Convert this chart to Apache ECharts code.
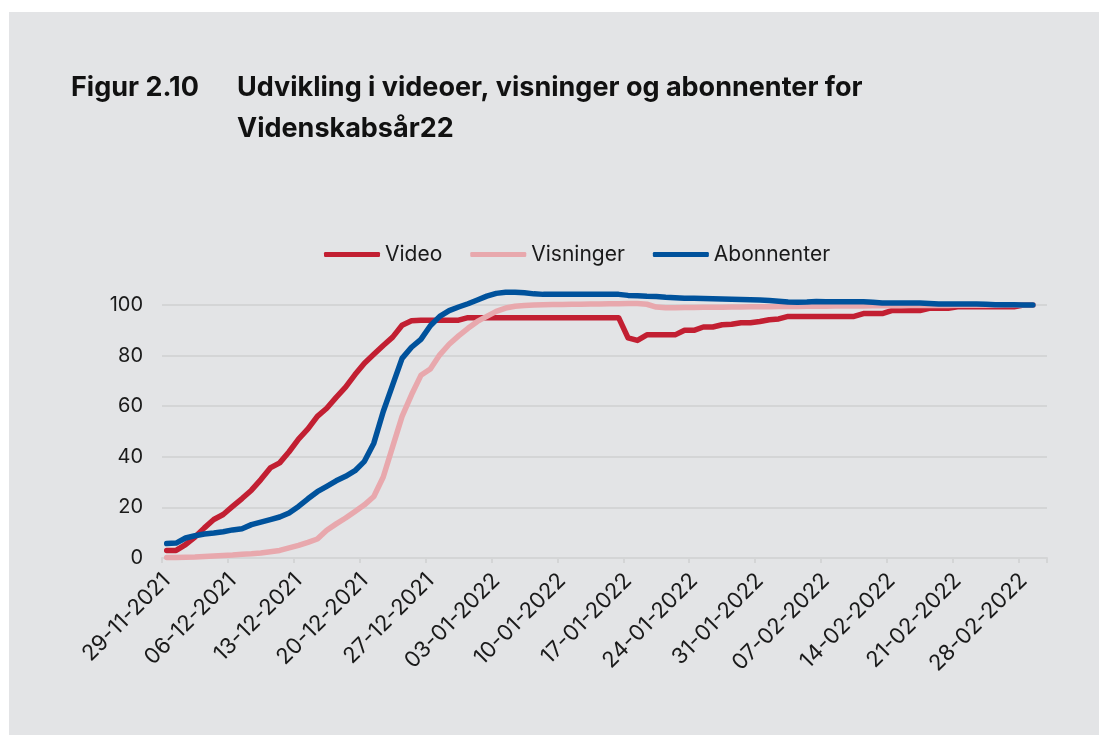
<!DOCTYPE html>
<html>
<head>
<meta charset="utf-8">
<title>Figur 2.10</title>
<script src="https://cdn.jsdelivr.net/npm/echarts@6/dist/echarts.min.js"></script>
<style>
  html, body { margin: 0; padding: 0; background: #ffffff; }
  #panel { position: absolute; left: 9px; top: 12px; right: 0; bottom: 0; background: #e3e4e6; }
  #chart { position: absolute; left: 0; top: 0; width: 1099px; height: 735px; }
</style>
</head>
<body>
<div id="panel"></div>
<div id="chart"></div>
<script>
// daily values, 29-11-2021 .. 01-03-2022 (index 100 = end level)
const startDate = '2021-11-29';
const dayCount = 94; // axis runs one slot past the last point

const video = [
  3, 3, 5.3, 8.3, 11.9, 15.2, 17.2, 20.4, 23.5, 26.8,
  31, 35.6, 37.6, 42, 47, 51, 56, 59.2, 63.5, 67.5,
  72.5, 77, 80.5, 84, 87.3, 92, 93.8, 94, 94, 94,
  94, 94, 95, 95, 95, 95, 95, 95, 95, 95,
  95, 95, 95, 95, 95, 95, 95, 95, 95, 87,
  86, 88.2, 88.2, 88.2, 88.2, 90, 90, 91.3, 91.3, 92.2,
  92.4, 93, 93, 93.5, 94.2, 94.5, 95.5, 95.5, 95.5, 95.5,
  95.5, 95.5, 95.5, 95.5, 96.6, 96.6, 96.6, 97.8, 97.8, 97.8,
  97.8, 98.7, 98.7, 98.7, 99.3, 99.3, 99.3, 99.3, 99.3, 99.3,
  99.3, 100, 100
];

const visninger = [
  0.2, 0.2, 0.3, 0.4, 0.6, 0.8, 1, 1.2, 1.5, 1.7,
  2, 2.5, 3, 4, 5, 6.2, 7.5, 11, 13.5, 15.8,
  18.4, 21, 24.3, 32, 44, 56, 64.5, 72.2, 74.7, 80.3,
  84.5, 87.8, 90.8, 93.5, 95.5, 97.5, 98.8, 99.5, 99.8, 100,
  100.1, 100.2, 100.2, 100.3, 100.3, 100.4, 100.4, 100.5, 100.5, 100.6,
  100.6, 100.3, 99.2, 98.9, 98.9, 99, 99, 99.1, 99.1, 99.1,
  99.2, 99.2, 99.3, 99.3, 99.3, 99.4, 99.4, 99.4, 99.5, 99.5,
  99.5, 99.6, 99.6, 99.6, 99.6, 99.7, 99.7, 99.7, 99.7, 99.8,
  99.8, 99.8, 99.8, 99.8, 99.9, 99.9, 99.9, 99.9, 99.9, 100,
  100, 100, 100
];

const abonnenter = [
  5.7, 5.9, 7.9, 8.8, 9.5, 9.9, 10.4, 11.1, 11.6, 13.2,
  14.2, 15.2, 16.2, 17.8, 20.4, 23.4, 26.2, 28.3, 30.5, 32.3,
  34.5, 38.2, 45.4, 57.9, 68.4, 78.9, 83.3, 86.4, 91.8, 95.5,
  97.8, 99.2, 100.5, 102, 103.5, 104.6, 105, 105, 104.8, 104.4,
  104.2, 104.2, 104.2, 104.2, 104.2, 104.2, 104.2, 104.2, 104.2, 103.8,
  103.7, 103.5, 103.4, 103.1, 102.9, 102.7, 102.7, 102.6, 102.5, 102.4,
  102.3, 102.2, 102.1, 102, 101.8, 101.5, 101.2, 101.1, 101.2, 101.4,
  101.3, 101.3, 101.3, 101.3, 101.3, 101.1, 100.8, 100.8, 100.8, 100.8,
  100.8, 100.6, 100.4, 100.4, 100.4, 100.4, 100.4, 100.3, 100.1, 100.1,
  100.1, 100, 100
];

const yTicks = [0, 20, 40, 60, 80, 100];

const colors = {
  video: '#c21f32',
  visninger: '#e8a8ad',
  abonnenter: '#00529c',
};

const font = 'Inter, "Noto Sans", sans-serif';

function pad(n) {
  return n < 10 ? '0' + n : '' + n;
}

// category labels dd-mm-yyyy, one per day
const days = [];
const d0 = new Date(startDate + 'T00:00:00Z');
for (let i = 0; i < dayCount; i++) {
  const d = new Date(d0.getTime() + i * 86400000);
  days.push(pad(d.getUTCDate()) + '-' + pad(d.getUTCMonth() + 1) + '-' + d.getUTCFullYear());
}

const chart = echarts.init(document.getElementById('chart'), null, { renderer: 'canvas' });

const lineSeries = (name, data, color) => ({
  name,
  type: 'line',
  data,
  symbol: 'none',
  clip: false,
  animation: false,
  lineStyle: { color, width: 5.5, cap: 'round', join: 'round' },
  itemStyle: { color },
});

const titleStyle = { fontFamily: font, fontWeight: 700, fontSize: 27, color: '#111111', lineHeight: 41 };

chart.setOption({
  backgroundColor: 'transparent',
  color: [colors.video, colors.visninger, colors.abonnenter],
  title: [
    { text: 'Figur 2.10', left: 66, top: 62, textStyle: titleStyle },
    {
      text: 'Udvikling i videoer, visninger og abonnenter for\nVidenskabsår22',
      left: 232,
      top: 62,
      textStyle: titleStyle,
    },
  ],
  legend: {
    data: ['Video', 'Visninger', 'Abonnenter'],
    icon: 'roundRect',
    left: 319,
    top: 239,
    itemWidth: 56,
    itemHeight: 5,
    itemGap: 28,
    textStyle: { fontFamily: font, fontSize: 21, color: '#1a1a1a' },
  },
  grid: {
    left: 162,
    right: 52,
    top: 305,
    bottom: 177,
    containLabel: false,
  },
  xAxis: {
    type: 'category',
    data: days,
    boundaryGap: true,
    axisLine: { lineStyle: { color: '#d4d5d6', width: 2 } },
    axisTick: { show: true, interval: 6, length: 5, lineStyle: { color: '#d4d5d6', width: 2 } },
    axisLabel: {
      interval: 6,
      rotate: 45,
      margin: 19,
      fontFamily: font,
      fontSize: 22,
      color: '#1a1a1a',
    },
    splitLine: { show: false },
  },
  yAxis: {
    type: 'value',
    min: yTicks[0],
    max: yTicks[yTicks.length - 1],
    interval: 20,
    axisLine: { show: false },
    axisTick: { show: false },
    axisLabel: { margin: 19, fontFamily: font, fontSize: 20, color: '#1a1a1a' },
    splitLine: { lineStyle: { color: '#d4d5d6', width: 2 } },
  },
  series: [
    lineSeries('Video', video, colors.video),
    lineSeries('Visninger', visninger, colors.visninger),
    lineSeries('Abonnenter', abonnenter, colors.abonnenter),
  ],
});

window.addEventListener('resize', () => chart.resize());
</script>
</body>
</html>
